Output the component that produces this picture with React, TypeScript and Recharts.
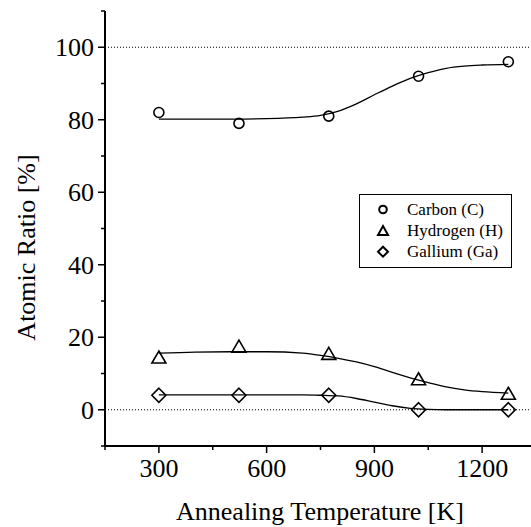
import React, { useEffect, useState } from 'react';
import { ComposedChart, Line, Scatter, XAxis, YAxis, ReferenceLine } from 'recharts';

// measured points
const temps = [300, 523, 773, 1023, 1273];
const carbon = [82, 79, 81, 92, 96];
const hydrogen = [14, 17, 15, 8, 4];
const gallium = [4, 4, 4, 0, 0];

// fitted curves
const fitTemps = [300, 400, 500, 600, 700, 750, 800, 850, 900, 950, 1000, 1050, 1100, 1150, 1200, 1273];
const carbonFit = [80.2, 80.2, 80.2, 80.3, 80.7, 81.2, 82.4, 84.4, 86.9, 89.3, 91.4, 93.0, 94.2, 94.8, 95.1, 95.3];
const hydrogenFit = [15.6, 15.9, 16.0, 16.0, 15.6, 15.0, 14.2, 13.2, 11.9, 10.3, 8.8, 7.5, 6.3, 5.5, 5.0, 4.6];
const galliumFit = [4.1, 4.1, 4.1, 4.1, 4.1, 4.0, 3.8, 3.1, 2.1, 1.1, 0.4, 0.1, 0.0, 0.0, 0.0, 0.0];

const xTicks = [150, 300, 450, 600, 750, 900, 1050, 1200, 1350];
const xLabels = [300, 600, 900, 1200];
const yTicks = [-10, 0, 10, 20, 30, 40, 50, 60, 70, 80, 90, 100, 110];
const yLabels = [0, 20, 40, 60, 80, 100];

const seriesNames = ['Carbon (C)', 'Hydrogen (H)', 'Gallium (Ga)'];
const xTitle = 'Annealing Temperature [K]';
const yTitle = 'Atomic Ratio [%]';

type Font = { family: string; k: number };
// DejaVu Serif runs ~25% wider than Times, so shrink it when it is the one in use
const FALLBACK: Font = { family: 'DejaVu Serif', k: 0.8 };
const TIMES: Font = { family: 'Liberation Serif', k: 1 };

const toPts = (xs: number[], ys: number[]) => xs.map((x, i) => ({ x, y: ys[i] }));

const CircleMark = (p: any) => (
  <circle cx={p.cx} cy={p.cy} r={5} fill="none" stroke="#000" strokeWidth={1.6} />
);
const TriangleMark = (p: any) => {
  const { cx, cy } = p;
  const h = 12, w = 14;
  return (
    <polygon
      points={`${cx},${cy - (2 * h) / 3} ${cx + w / 2},${cy + h / 3} ${cx - w / 2},${cy + h / 3}`}
      fill="none" stroke="#000" strokeWidth={1.6}
    />
  );
};
const DiamondMark = (p: any) => {
  const { cx, cy } = p;
  const r = 7;
  return (
    <polygon
      points={`${cx},${cy - r} ${cx + r},${cy} ${cx},${cy + r} ${cx - r},${cy}`}
      fill="none" stroke="#000" strokeWidth={1.6}
    />
  );
};

const makeLeftTick = (f: Font) => (p: any) => {
  const { x, y, payload } = p;
  const major = yLabels.includes(payload.value);
  const fs = 26 * f.k;
  return (
    <g>
      <line x1={x} x2={x - (major ? 7 : 4)} y1={y} y2={y} stroke="#000" strokeWidth={1.5} />
      {major && (
        <text x={x - 11} y={y + fs * 0.34} textAnchor="end" fontSize={fs} fontFamily={f.family} fill="#000">
          {payload.value}
        </text>
      )}
    </g>
  );
};

const makeBottomTick = (f: Font) => (p: any) => {
  const { x, y, payload } = p;
  const major = xLabels.includes(payload.value);
  return (
    <g>
      <line x1={x} x2={x} y1={y} y2={y + (major ? 7 : 4)} stroke="#000" strokeWidth={1.5} />
      {major && (
        <text x={x} y={y + 31} textAnchor="middle" fontSize={26 * f.k} fontFamily={f.family} fill="#000">
          {payload.value}
        </text>
      )}
    </g>
  );
};

const TopTick = (p: any) => {
  const { x, y } = p;
  return <line x1={x} x2={x} y1={y} y2={y + 3} stroke="#000" strokeWidth={1} />;
};

function LegendBox({ f }: { f: Font }) {
  const rows = [15.5, 37, 57.7];
  const marks = [
    <circle key="c" cx={24} cy={rows[0]} r={3.8} fill="none" stroke="#000" strokeWidth={2} />,
    <polygon key="t" points={`24,${rows[1] - 5} 29,${rows[1] + 4} 19,${rows[1] + 4}`} fill="none" stroke="#000" strokeWidth={2} />,
    <polygon key="d" points={`24,${rows[2] - 5} 29,${rows[2]} 24,${rows[2] + 5} 19,${rows[2]}`} fill="none" stroke="#000" strokeWidth={2} />,
  ];
  return (
    <svg width={154} height={75} style={{ position: 'absolute', left: 359, top: 194 }}>
      <rect x={0.5} y={0.5} width={152} height={73} fill="#fff" stroke="#000" strokeWidth={1} />
      {marks}
      {seriesNames.map((n, i) => (
        <text key={n} x={48} y={rows[i] + 5} fontSize={17 * f.k} fontFamily={f.family} fill="#000">{n}</text>
      ))}
    </svg>
  );
}

export default function App() {
  const [font, setFont] = useState<Font>(FALLBACK);

  useEffect(() => {
    // use the Times-metric face only if the browser actually resolves it
    const probe = () => {
      const ctx = document.createElement('canvas').getContext('2d');
      if (!ctx) return;
      ctx.font = '26px "Liberation Serif", "DejaVu Sans Mono"';
      const w = ctx.measureText(xTitle).width;
      if (w > 250 && w < 310) setFont(TIMES);
    };
    probe();
    const t = setTimeout(probe, 150);
    return () => clearTimeout(t);
  }, []);

  const ts = 26 * font.k;

  return (
    <div style={{ position: 'absolute', left: 0, top: 0, width: 531, height: 527, overflow: 'hidden', background: '#fff' }}>
      <ComposedChart width={536} height={527} margin={{ top: 11, right: 0, bottom: 0, left: 0 }}>
        <XAxis
          xAxisId="b" type="number" dataKey="x" domain={[150, 1350]} ticks={xTicks}
          tick={makeBottomTick(font)} tickLine={false} tickSize={0} tickMargin={0} height={81}
          axisLine={{ stroke: '#000', strokeWidth: 2 }} interval={0}
        />
        <XAxis
          xAxisId="t" orientation="top" type="number" dataKey="x" domain={[150, 1350]} ticks={xTicks}
          tick={TopTick} tickLine={false} tickSize={0} tickMargin={0} height={0}
          axisLine={{ stroke: '#000', strokeWidth: 2 }} interval={0}
        />
        <YAxis
          type="number" dataKey="y" domain={[-10, 110]} ticks={yTicks} width={105}
          tick={makeLeftTick(font)} tickLine={false} tickSize={0} tickMargin={0}
          axisLine={{ stroke: '#000', strokeWidth: 2 }} interval={0}
        />
        <ReferenceLine xAxisId="b" y={100} stroke="#000" strokeWidth={1} strokeDasharray="1 2" />
        <ReferenceLine xAxisId="b" y={0} stroke="#000" strokeWidth={1} strokeDasharray="1 2" />
        <Line xAxisId="b" data={toPts(fitTemps, carbonFit)} dataKey="y" type="monotone" stroke="#000" strokeWidth={1.3} dot={false} isAnimationActive={false} />
        <Line xAxisId="b" data={toPts(fitTemps, hydrogenFit)} dataKey="y" type="monotone" stroke="#000" strokeWidth={1.3} dot={false} isAnimationActive={false} />
        <Line xAxisId="b" data={toPts(fitTemps, galliumFit)} dataKey="y" type="monotone" stroke="#000" strokeWidth={1.3} dot={false} isAnimationActive={false} />
        <Scatter xAxisId="b" name={seriesNames[0]} data={toPts(temps, carbon)} shape={CircleMark} isAnimationActive={false} />
        <Scatter xAxisId="b" name={seriesNames[1]} data={toPts(temps, hydrogen)} shape={TriangleMark} isAnimationActive={false} />
        <Scatter xAxisId="b" name={seriesNames[2]} data={toPts(temps, gallium)} shape={DiamondMark} isAnimationActive={false} />
        <text x={320} y={520} textAnchor="middle" fontSize={ts} fontFamily={font.family} fill="#000">
          {xTitle}
        </text>
        <text x={35} y={247.5} textAnchor="middle" fontSize={ts} fontFamily={font.family} fill="#000" transform="rotate(-90 35 247.5)">
          {yTitle}
        </text>
      </ComposedChart>
      <LegendBox f={font} />
    </div>
  );
}
